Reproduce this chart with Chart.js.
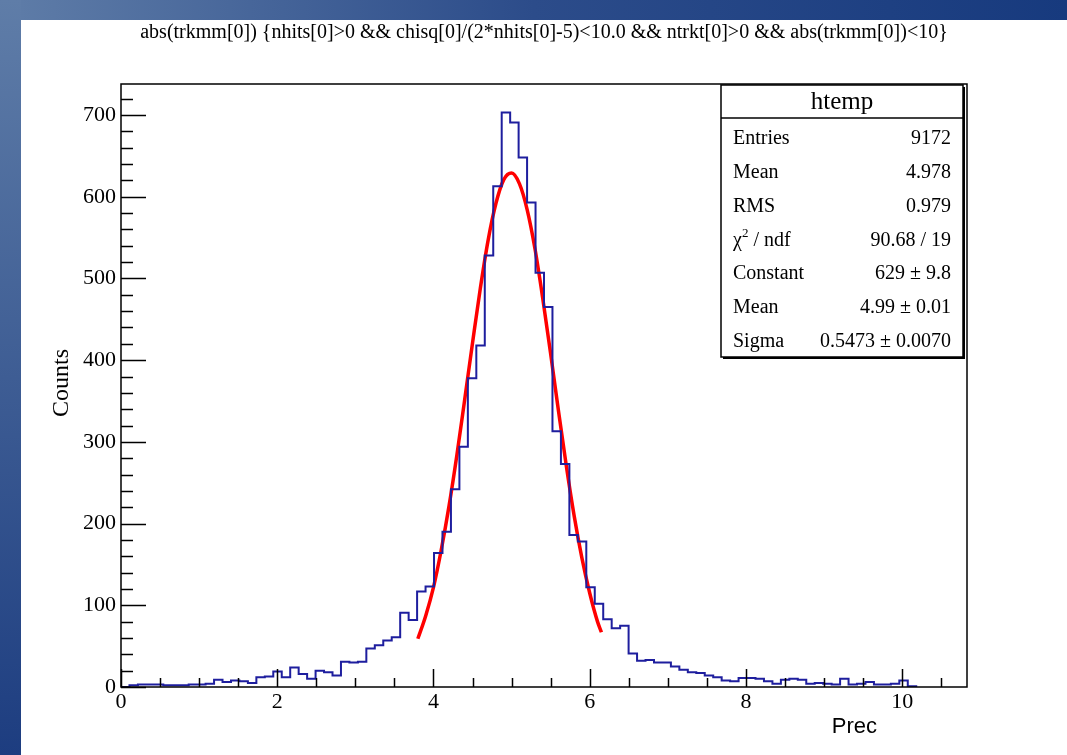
<!DOCTYPE html>
<html>
<head>
<meta charset="utf-8">
<script src="https://cdn.jsdelivr.net/npm/chart.js@4.4.0/dist/chart.umd.min.js"></script>
<style>
html, body { margin: 0; padding: 0; background: #fff; overflow: hidden; }
canvas { display: block; }
</style>
</head>
<body>
<canvas id="myChart" width="1067" height="755"></canvas>
<script>
// htemp: Prec histogram, bins start at 0
var binWidth = 0.1083;
var xMax = 10.83;
var yMax = 738;
var counts = [
	0, 2, 3, 3, 3, 2, 2, 2, 3, 3,
	4, 9, 6, 8, 7, 5, 12, 13, 19, 12,
	24, 16, 10, 20, 18, 14, 31, 30, 31, 47,
	51, 57, 61, 91, 82, 117, 123, 164, 190, 242,
	294, 378, 418, 528, 613, 703, 691, 648, 593, 507,
	465, 313, 273, 186, 178, 122, 102, 83, 72, 75,
	41, 32, 33, 30, 30, 25, 21, 18, 17, 14,
	12, 8, 7, 11, 11, 10, 7, 4, 9, 10,
	9, 4, 5, 4, 3, 10, 3, 4, 6, 3,
	3, 4, 8, 1
];
// gaus fit
var fitX = [3.8, 3.9, 4.0, 4.1, 4.2, 4.3, 4.4, 4.5, 4.6, 4.7, 4.8, 4.9, 5.0, 5.1, 5.2, 5.3, 5.4, 5.5, 5.6, 5.7, 5.8, 5.9, 6.0, 6.1, 6.15];
var fitY = [59, 87, 122, 168, 222, 284, 352, 421, 488, 547, 592, 621, 629, 616, 584, 536, 475, 408, 338, 271, 210, 158, 115, 80, 67];
var xTickValues = [0, 2, 4, 6, 8, 10];
var yTickValues = [0, 100, 200, 300, 400, 500, 600, 700];
var titleText = 'abs(trkmm[0]) {nhits[0]>0 && chisq[0]/(2*nhits[0]-5)<10.0 && ntrkt[0]>0 && abs(trkmm[0])<10}';
var statNames = ['Entries', 'Mean', 'RMS', 'chi2', 'Constant', 'Mean', 'Sigma'];
var statValues = ['9172', '4.978', '0.979', '90.68 / 19', '629 \u00b1 9.8', '4.99 \u00b1 0.01', '0.5473 \u00b1 0.0070'];

var histPoints = [];
for (var i = 0; i < counts.length; i++) {
	histPoints.push({x: i * binWidth, y: counts[i]});
}
histPoints.push({x: counts.length * binWidth, y: 0});
var fitPoints = fitX.map(function (x, k) { return {x: x, y: fitY[k]}; });

var serif = '"Liberation Serif", "Times New Roman", serif';
Chart.defaults.font.family = serif;
Chart.defaults.color = '#000';

var rootStyle = {
	id: 'rootStyle',
	beforeDraw: function (chart) {
		var ctx = chart.ctx, W = chart.width, H = chart.height;
		ctx.save();
		ctx.fillStyle = '#fff';
		ctx.fillRect(0, 0, W, H);
		// slide background bands
		var g = ctx.createLinearGradient(0, 0, W, 0);
		g.addColorStop(0, '#5f7da8');
		g.addColorStop(0.5, '#2c4c8a');
		g.addColorStop(1, '#173a7e');
		ctx.fillStyle = g;
		ctx.fillRect(0, 0, W, 20);
		var g2 = ctx.createLinearGradient(0, 0, 0, H);
		g2.addColorStop(0, '#5f7da8');
		g2.addColorStop(1, '#1d3d80');
		ctx.fillStyle = g2;
		ctx.fillRect(0, 0, 21, H);
		ctx.restore();
	},
	afterDraw: function (chart) {
		var ctx = chart.ctx, a = chart.chartArea;
		var xs = chart.scales.x, ys = chart.scales.y;
		ctx.save();
		ctx.strokeStyle = '#000';
		ctx.lineWidth = 1.5;
		ctx.strokeRect(a.left, a.top, a.right - a.left, a.bottom - a.top);
		// ticks inside the frame
		ctx.beginPath();
		for (var v = 0; v <= xMax; v += 0.5) {
			var px = Math.round(xs.getPixelForValue(v)) + 0.5;
			var len = (v % 2 === 0) ? 18 : 9;
			ctx.moveTo(px, a.bottom);
			ctx.lineTo(px, a.bottom - len);
		}
		for (var w = 0; w <= yMax; w += 20) {
			var py = Math.round(ys.getPixelForValue(w)) + 0.5;
			var l2 = (w % 100 === 0) ? 25 : 12;
			ctx.moveTo(a.left, py);
			ctx.lineTo(a.left + l2, py);
		}
		ctx.stroke();

		// axis titles
		ctx.fillStyle = '#000';
		ctx.textBaseline = 'middle';
		ctx.font = '22px "Liberation Sans", Arial, sans-serif';
		ctx.textAlign = 'right';
		ctx.fillText('Prec', 877, 727);
		ctx.save();
		ctx.translate(62, 383);
		ctx.rotate(-Math.PI / 2);
		ctx.textAlign = 'center';
		ctx.font = '24px ' + serif;
		ctx.fillText('Counts', 0, 0);
		ctx.restore();

		// stats box
		var bx = 721, by = a.top + 1, bw = a.right - 4 - bx, bh = 272;
		ctx.fillStyle = '#000';
		ctx.fillRect(bx + 2, by + 2, bw, bh);
		ctx.fillStyle = '#fff';
		ctx.fillRect(bx, by, bw, bh);
		ctx.lineWidth = 1.5;
		ctx.strokeRect(bx, by, bw, bh);
		ctx.beginPath();
		ctx.moveTo(bx, by + 33);
		ctx.lineTo(bx + bw, by + 33);
		ctx.stroke();
		ctx.fillStyle = '#000';
		ctx.textAlign = 'center';
		ctx.font = '25px ' + serif;
		ctx.fillText('htemp', bx + bw / 2, by + 17);
		ctx.font = '20px ' + serif;
		for (var k = 0; k < statNames.length; k++) {
			var ry = by + 54 + k * 33.8;
			ctx.textAlign = 'left';
			if (statNames[k] === 'chi2') {
				ctx.fillText('\u03c7', bx + 12, ry);
				var cw = ctx.measureText('\u03c7').width;
				ctx.font = '13px ' + serif;
				ctx.fillText('2', bx + 12 + cw, ry - 7);
				var sw = ctx.measureText('2').width;
				ctx.font = '20px ' + serif;
				ctx.fillText(' / ndf', bx + 12 + cw + sw, ry);
			} else {
				ctx.fillText(statNames[k], bx + 12, ry);
			}
			ctx.textAlign = 'right';
			ctx.fillText(statValues[k], bx + bw - 12, ry);
		}
		ctx.restore();
	}
};

var ctx = document.getElementById('myChart').getContext('2d');
var myChart = new Chart(ctx, {
	type: 'line',
	data: {
		datasets: [{
			label: 'htemp',
			data: histPoints,
			stepped: 'before',
			borderColor: '#1e1e9e',
			borderWidth: 2,
			pointRadius: 0,
			fill: false
		}, {
			label: 'gaus',
			data: fitPoints,
			cubicInterpolationMode: 'monotone',
			borderColor: '#ff0000',
			borderWidth: 3.5,
			pointRadius: 0,
			fill: false
		}]
	},
	options: {
		responsive: false,
		animation: false,
		layout: {padding: {left: 21, right: 0, top: 0, bottom: 0}},
		plugins: {
			legend: {display: false},
			tooltip: {enabled: false},
			title: {
				display: true,
				text: titleText,
				color: '#000',
				font: {family: serif, size: 20, weight: 'normal'},
				padding: {top: 21, bottom: 39}
			}
		},
		scales: {
			x: {
				type: 'linear',
				min: 0,
				max: xMax,
				grid: {display: false, drawTicks: false},
				border: {display: false},
				ticks: {font: {size: 22}, color: '#000', padding: 2, maxRotation: 0},
				afterBuildTicks: function (s) { s.ticks = xTickValues.map(function (v) { return {value: v}; }); },
				afterFit: function (s) { s.height = 68; }
			},
			y: {
				min: 0,
				max: yMax,
				grid: {display: false, drawTicks: false},
				border: {display: false},
				ticks: {font: {size: 22}, color: '#000', padding: 5},
				afterBuildTicks: function (s) { s.ticks = yTickValues.map(function (v) { return {value: v}; }); },
				afterFit: function (s) { s.width = 100; }
			},
			yRight: {
				position: 'right',
				min: 0,
				max: yMax,
				grid: {display: false, drawTicks: false},
				border: {display: false},
				ticks: {display: false},
				afterFit: function (s) { s.width = 100; }
			}
		}
	},
	plugins: [rootStyle]
});
</script>
</body>
</html>
